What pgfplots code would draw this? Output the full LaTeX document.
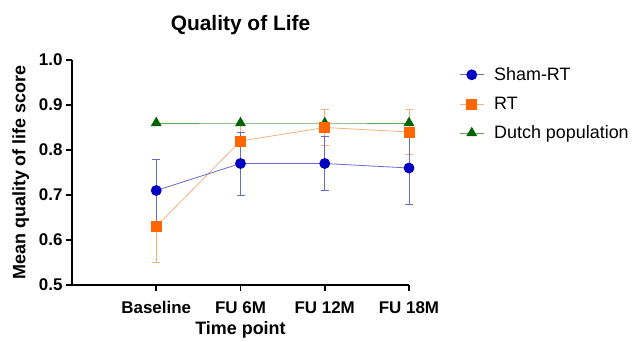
\documentclass[border=0pt]{standalone}
\usepackage{pgfplots}
\pgfplotsset{compat=1.18}
\usepackage{fontspec}
\setmainfont{Liberation Sans}
\definecolor{shamM}{HTML}{0000C0}
\definecolor{shamL}{HTML}{6A6AC8}
\definecolor{rtM}{HTML}{FF6600}
\definecolor{rtL}{HTML}{F2B27E}
\definecolor{duM}{HTML}{006400}
\definecolor{duL}{HTML}{5FA65F}
\begin{document}
\begin{tikzpicture}
\useasboundingbox (-72bp,-57bp) rectangle (564bp,285bp);
\begin{axis}[
  at={(0,0)}, anchor=south west,
  scale only axis, width=337bp, height=225bp,
  xmin=-1, xmax=3, ymin=0.5, ymax=1.0,
  axis x line*=bottom, axis y line*=left,
  axis line style={line width=1.6bp, -},
  every tick/.style={line width=1.6bp, black},
  tick align=outside, major tick length=6bp,
  xtick={0,1,2,3}, xticklabels={Baseline,FU 6M,FU 12M,FU 18M},
  ytick={0.5,0.6,0.7,0.8,0.9,1.0},
  yticklabel style={/pgf/number format/.cd, fixed, fixed zerofill, precision=1, assume math mode=true},
  ticklabel style={font=\fontsize{17}{19}\selectfont\bfseries},
  xticklabel style={yshift=-7bp},
  xlabel={Time point}, ylabel={Mean quality of life score},
  xlabel style={font=\fontsize{18}{20}\selectfont\bfseries, yshift=-1bp},
  ylabel style={font=\fontsize{18}{20}\selectfont\bfseries},
  ylabel shift=3bp,
  title={Quality of Life},
  title style={font=\fontsize{21}{23}\selectfont\bfseries, at={(0.5,1)}, yshift=16bp},
  legend style={draw=none, fill=none, at={(1.14,0.985)}, anchor=north west,
    font=\fontsize{18}{20}\selectfont, row sep=11bp, legend cell align=left,
    /tikz/every odd column/.append style={column sep=8bp}},
  legend image code/.code={
    \draw[mark repeat=2,mark phase=2] plot coordinates {(0bp,0bp) (12bp,0bp) (24bp,0bp)};},
  reverse legend,
  clip=false,
]
\addplot[color=duL, line width=0.8bp, mark=triangle*, mark size=5.5bp,
  mark options={fill=duM, draw=duM}]
  coordinates {(0,0.86) (1,0.86) (2,0.86) (3,0.86)};
\addlegendentry{Dutch population}
\addplot[color=rtL, line width=0.8bp, mark=square*, mark size=5bp,
  mark options={fill=rtM, draw=rtM},
  error bars/.cd, y dir=both, y explicit,
  error bar style={color=rtL, line width=0.8bp},
  error mark options={rotate=90, mark size=4bp, color=rtL, line width=0.8bp}]
  coordinates {(0,0.63) +- (0,0.08) (1,0.82) +- (0,0.04) (2,0.85) +- (0,0.04) (3,0.84) +- (0,0.05)};
\addlegendentry{RT}
\addplot[color=shamL, line width=0.8bp, mark=*, mark size=5bp,
  mark options={fill=shamM, draw=shamM},
  error bars/.cd, y dir=both, y explicit,
  error bar style={color=shamL, line width=0.8bp},
  error mark options={rotate=90, mark size=4bp, color=shamL, line width=0.8bp}]
  coordinates {(0,0.71) +- (0,0.07) (1,0.77) +- (0,0.07) (2,0.77) +- (0,0.06) (3,0.76) +- (0,0.08)};
\addlegendentry{Sham-RT}
\end{axis}
\end{tikzpicture}
\end{document}
